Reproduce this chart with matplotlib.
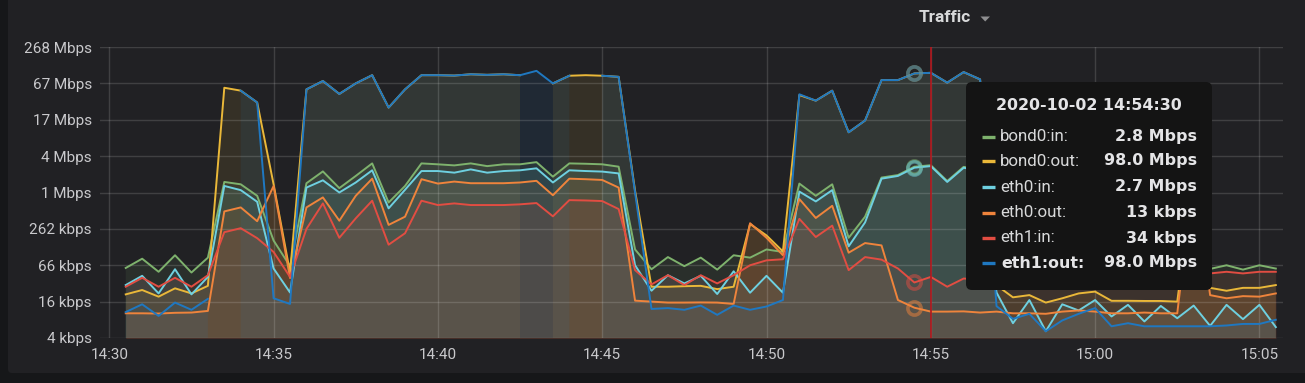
import numpy as np
import pandas as pd
import matplotlib
matplotlib.use("Agg")
import matplotlib.pyplot as plt
import matplotlib.dates as mdates
from matplotlib.patches import FancyBboxPatch, Polygon
from matplotlib.ticker import FixedLocator, FixedFormatter, NullLocator

nan = np.nan

# ---------------- data ----------------
start_time = "2020-10-02 14:30:30"
n_points = 71
step = "30s"

# values in kbps (1 kbps = 1000 bps)
bond0_in_kbps = [59.1, 84.1, 51.1, 95.9, 49.7, 87.6, 1568, 1433, 925, 168, 63.3,
                 1494, 2343, 1239, 1971, 3179, 716, 1346, 3179, 3070, 2946, 3179, 2865,
                 3070, 3070, 3336, 1918, 3179, 3135, 3070, 2806, 119.7, 56.3, 89.5, 63.3,
                 87.6, 55.5, 95.9, 87.6, 119.7, 108.7, 1473, 925, 1433, 186.6, 417, 1852,
                 2040, 2800, 2966, 1624, 2787, 2494, 70.2, 57.0, 75.3, 61.1, 70.2, 57.0,
                 75.3, 61.1, 70.2, 57.0, 70.2, 61.1, 70.2, 57.0, 65.5, 55.5, 65.5, 57.8]

bond0_out_kbps = [21.6, 25.5, 19.8, 27.2, 22.4, 29.9, 56800, 50870, 32410, 1433, 49.7,
                  53390, 73420, 44900, 67109, 91670, 26690, 53390, 91670, 91670, 90400, 94900, 92950,
                  94900, 91670, nan, 67109, 89800, 91670, 89800, 86100, 1124, 28.9, 28.9, 29.5,
                  29.9, 26.4, 28.9, 316, 204, 110.9, 43050, 34730, 50870, 10400, 16320, 76030,
                  76030, 98000, 100300, 69000, 103150, 78180, 30.6, 19.3, 21.0, 15.8, 18.6, 22.4,
                  24.0, 16.9, 16.9, 16.8, 16.8, 16.4, 2000, 27.7, 24.8, 27.7, 27.7, 30.8]

eth0_in_kbps = [30.8, 43.8, 22.4, 56.3, 21.6, 42.0, 1346, 1148, 736, 57.9, 23.2,
                1265, 1669, 1049, 1536, 2443, 573, 1164, 2376, 2376, 2233, 2529, 2233,
                2376, 2443, 2636, 1536, 2443, 2376, 2328, 2171, 65.5, 24.8, 44.8, 32.8,
                43.8, 21.9, 52.1, 23.0, 43.8, 23.0, 1086, 746, 1148, 134.7, 336, 1776,
                1971, 2700, 2865, 1568, 2691, 2409, 23.2, 7.2, 17.4, 5.3, 14.8, 11.7,
                17.4, 9.3, 14.5, 7.7, 13.9, 8.7, 14.1, 6.5, 14.5, 8.4, 14.5, 6.2]

eth0_out_kbps = [10.5, 10.5, 10.4, 10.7, 10.8, 11.5, 510, 594, 351, 1346, 40.3,
                 594, 870, 358, 925, 1776, 305, 417, 1740, 1473, 1590, 1494, 1494,
                 1494, 1536, 1635, 945, 1776, 1740, 1692, 1265, 17.0, 16.4, 15.8, 15.8,
                 15.9, 15.8, 15.0, 325, 186.6, 95.9, 817, 397, 632, 105.7, 152.7, 139.6,
                 17.4, 13.0, 11.2, 11.2, 11.3, 10.8, 11.2, 10.5, 10.5, 10.3, 11.2, 11.7,
                 11.2, 10.5, 10.5, 10.8, 10.5, 10.5, 2000, 21.0, 18.6, 20.2, 19.8, 22.4]

eth1_in_kbps = [28.9, 40.6, 28.9, 40.6, 28.9, 44.8, 231, 269, 184, 108.7, 42.0,
                262, 692, 186.6, 392, 767, 143.4, 222, 767, 650, 692, 650, 650,
                650, 668, 701, 423, 784, 774, 757, 558, 54.4, 31.6, 44.8, 30.8,
                44.8, 32.8, 44.8, 65.5, 79.0, 82.3, 384, 192, 297, 54.4, 89.5, 81.2,
                57.9, 34.0, 42.0, 28.9, 39.5, 38, 42, 36, 40, 35, 41, 37,
                43, 38, 42, 39, 45, 42, 44, 48.0, 51.1, 48.0, 51.1, 51.1]

eth1_out_kbps = [11.0, 14.8, 9.5, 15.8, 12.0, 18.2, nan, 50870, 32410, 18.6, 15.0,
                 53390, 73420, 44900, 67109, 91670, 26690, 53390, 91670, 91670, 90400, 94900, 92950,
                 94900, 91670, 108250, 67109, 89800, nan, 89800, 86100, 1049, 12.4, 12.8, 12.0,
                 14.1, 9.9, 14.1, 12.0, 13.6, 17.4, 44290, 34730, 50870, 10400, 16320, 76030,
                 76030, 98000, 100300, 69000, 103150, 78180, 13.8, 8.5, 10.3, 5.3, 8.0, 10.3,
                 12.8, 6.4, 7.2, 6.4, 6.4, 6.4, 6.4, 6.4, 6.6, 7.0, 7.0, 8.2]

series_names = ["bond0:in", "bond0:out", "eth0:in", "eth0:out", "eth1:in", "eth1:out"]
series_colors = ["#7EB26D", "#EAB839", "#6ED0E0", "#EF843C", "#E24D42", "#1F78C1"]
series_data = [bond0_in_kbps, bond0_out_kbps, eth0_in_kbps, eth0_out_kbps, eth1_in_kbps, eth1_out_kbps]

y_tick_values = [4096, 16384, 65536, 262144, 1048576, 4194304, 16777216, 67108864, 268435456]
y_tick_labels = ["4 kbps", "16 kbps", "66 kbps", "262 kbps", "1 Mbps", "4 Mbps", "17 Mbps", "67 Mbps", "268 Mbps"]
x_tick_times = ["14:30", "14:35", "14:40", "14:45", "14:50", "14:55", "15:00", "15:05"]

title = "Traffic"
tooltip_time = "2020-10-02 14:54:30"
tooltip_values = ["2.8 Mbps", "98.0 Mbps", "2.7 Mbps", "13 kbps", "34 kbps", "98.0 Mbps"]
hover_index = 48
crosshair_time = "2020-10-02 14:55:00"
day = "2020-10-02"

# ---------------- figure ----------------
W, H = 1305, 383
fig = plt.figure(figsize=(W / 100, H / 100), dpi=100)
fig.patch.set_facecolor("#161719")

bg = fig.add_axes([0, 0, 1, 1], zorder=0)
bg.set_xlim(0, W); bg.set_ylim(H, 0); bg.axis("off")
bg.add_patch(FancyBboxPatch((8, -20), W + 20, 373 + 20, boxstyle="round,pad=0,rounding_size=4",
                            fc="#212124", ec="none"))

ax = fig.add_axes([100 / W, 1 - 338 / H, 1183 / W, 291 / H], zorder=1)
ax.patch.set_alpha(0)

times = mdates.date2num(pd.date_range(start_time, periods=n_points, freq=step).to_pydatetime())

for k, (vals, col) in enumerate(zip(series_data, series_colors)):
    y = np.array(vals, dtype=float) * 1000.0
    ax.fill_between(times, y, 1.0, color=col, alpha=0.1, lw=0, zorder=1 + k * 0.1)
    ax.plot(times, y, color=col, lw=1.4, zorder=3 + k * 0.1, solid_joinstyle="round")

ax.set_yscale("log", base=2)
ax.set_ylim(4096, 268435456)
t0 = mdates.date2num(pd.Timestamp(day + " 14:30:00"))
per_min = 1.0 / 1440.0
ax.set_xlim(t0 - 9.3 / 32.86 * per_min, t0 + (1283 - 109.3) / 32.86 * per_min)

ax.yaxis.set_major_locator(FixedLocator(y_tick_values))
ax.yaxis.set_major_formatter(FixedFormatter(y_tick_labels))
ax.yaxis.set_minor_locator(NullLocator())
xt = [mdates.date2num(pd.Timestamp(day + " " + s)) for s in x_tick_times]
ax.xaxis.set_major_locator(FixedLocator(xt))
ax.xaxis.set_major_formatter(FixedFormatter(x_tick_times))
ax.xaxis.set_minor_locator(NullLocator())

for s in ax.spines.values():
    s.set_visible(False)
ax.tick_params(axis="both", length=0, labelcolor="#c9c9cc", labelsize=11)
ax.tick_params(axis="y", pad=5.8)
ax.tick_params(axis="x", pad=7)
for lab in ax.get_xticklabels() + ax.get_yticklabels():
    lab.set_family("Roboto")
ax.grid(True, color="#ffffff", alpha=0.14, lw=1, zorder=2)
ax.set_axisbelow(False)
for gl in ax.get_xgridlines() + ax.get_ygridlines():
    gl.set_zorder(2)

# crosshair + hover markers
ax.axvline(mdates.date2num(pd.Timestamp(crosshair_time)), color="#b3161c", lw=1.2, zorder=4)
for vals, col in zip(series_data, series_colors):
    v = vals[hover_index] * 1000.0
    ax.plot([times[hover_index]], [v], marker="o", ms=9.5, mfc="none", mec=col, mew=2.6,
            alpha=0.5, zorder=5)

# ---------------- overlay: title + tooltip ----------------
ov = fig.add_axes([0, 0, 1, 1], zorder=5)
ov.set_xlim(0, W); ov.set_ylim(H, 0); ov.axis("off"); ov.patch.set_alpha(0)

ov.text(945, 17, title, ha="center", va="center", fontsize=12.4, fontweight="bold",
        color="#d8d9da", family="Roboto")
ov.add_patch(Polygon([(980.5, 16.5), (990, 16.5), (985.2, 21.5)], closed=True, fc="#8e8e90", ec="none"))

ov.add_patch(FancyBboxPatch((966, 82), 246, 208, boxstyle="round,pad=0,rounding_size=6",
                            fc="#141414", ec="none"))
ov.text(1088.5, 105, tooltip_time, ha="center", va="center", fontsize=11.4, fontweight="bold",
        color="#e4e4e6", family="DejaVu Sans")
row_y = [136.5, 161, 187, 212.5, 238, 263]
for i, (nm, col, val) in enumerate(zip(series_names, series_colors, tooltip_values)):
    yy = row_y[i]
    ov.plot([982, 995], [yy, yy], color=col, lw=2.4, solid_capstyle="butt")
    if i == len(series_names) - 1:
        ov.text(1001, yy, nm + ":", ha="left", va="center", fontsize=11.4, fontweight="bold",
                color="#e4e4e6", family="DejaVu Sans")
    else:
        ov.text(1000, yy, nm + ":", ha="left", va="center", fontsize=12.2,
                color="#d8d9da", family="Roboto")
    ov.text(1197, yy, val, ha="right", va="center", fontsize=11.4, fontweight="bold",
            color="#e4e4e6", family="DejaVu Sans")

fig.savefig("out.png", dpi=100, facecolor=fig.get_facecolor())
